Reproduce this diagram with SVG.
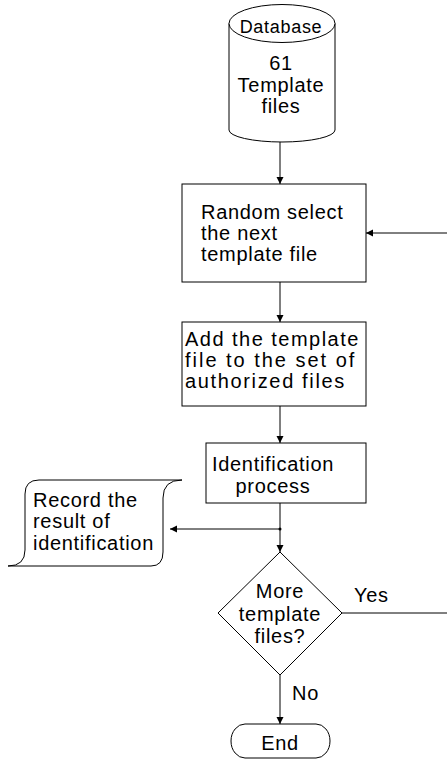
<svg xmlns="http://www.w3.org/2000/svg" width="447" height="760" viewBox="0 0 447 760">
  <style>
    .shape { fill: #fff; stroke: #000; stroke-width: 1; }
    .line { fill: none; stroke: #000; stroke-width: 1; }
    text { font-family: "Liberation Sans", Arial, sans-serif; font-size: 20px; letter-spacing: 0.7px; fill: #000; }
    .mid { text-anchor: middle; }
  </style>
  <defs>
    <marker id="arrow" markerUnits="userSpaceOnUse" markerWidth="8" markerHeight="8" refX="7" refY="3.5" orient="auto">
      <path d="M0,0 L7,3.5 L0,7 Z" fill="#000"/>
    </marker>
  </defs>

  <rect width="447" height="760" fill="#fff"/>

  <!-- connectors -->
  <g id="connectors">
    <line class="line" x1="280" y1="142" x2="280" y2="184" marker-end="url(#arrow)"/>
    <line class="line" x1="447" y1="233" x2="366" y2="233" marker-end="url(#arrow)"/>
    <line class="line" x1="280" y1="282" x2="280" y2="322" marker-end="url(#arrow)"/>
    <line class="line" x1="280" y1="406" x2="280" y2="443" marker-end="url(#arrow)"/>
    <line class="line" x1="280" y1="503" x2="280" y2="552" marker-end="url(#arrow)"/>
    <line class="line" x1="280" y1="529" x2="170" y2="529" marker-end="url(#arrow)"/>
    <circle cx="280" cy="529" r="1.5" fill="#000"/>
    <line class="line" x1="342" y1="613" x2="447" y2="613"/>
    <line class="line" x1="280" y1="675" x2="280" y2="724" marker-end="url(#arrow)"/>
    <text x="354" y="602">Yes</text>
    <text x="292" y="700">No</text>
  </g>

  <!-- database cylinder -->
  <g id="database">
    <path class="shape" d="M229,23.5 L229,130 A53,12 0 0 0 335,130 L335,23.5"/>
    <ellipse class="shape" cx="282" cy="23.5" rx="53" ry="19"/>
    <text class="mid" x="281" y="33" style="font-size:18px">Database</text>
    <text class="mid" x="281" y="70">61</text>
    <text class="mid" x="281" y="92">Template</text>
    <text class="mid" x="281" y="113">files</text>
  </g>

  <!-- random selection -->
  <g id="select">
    <rect class="shape" x="182" y="184" width="184" height="98"/>
    <text x="201" y="219">Random select</text>
    <text x="201" y="240">the next</text>
    <text x="201" y="261">template file</text>
  </g>

  <!-- add to authorized set -->
  <g id="add">
    <rect class="shape" x="182" y="322" width="184" height="84"/>
    <text x="185" y="346" textLength="174" lengthAdjust="spacing">Add the template</text>
    <text x="185" y="367" textLength="170" lengthAdjust="spacing">file to the set of</text>
    <text x="185" y="388" textLength="160" lengthAdjust="spacing">authorized files</text>
  </g>

  <!-- identification -->
  <g id="identify">
    <rect class="shape" x="206" y="443" width="160" height="60"/>
    <text class="mid" x="273" y="471">Identification</text>
    <text class="mid" x="273" y="493">process</text>
  </g>

  <!-- record of results -->
  <g id="record">
    <path class="shape" d="M182,480 L39,480 Q25,480 25,494 L25,550 Q25,566 8,566 L151,566 Q163,566 163,552 L163,498 Q163,480 182,480 Z"/>
    <text x="33" y="507">Record the</text>
    <text x="33" y="528">result of</text>
    <text x="33" y="550">identification</text>
  </g>

  <!-- decision -->
  <g id="decision">
    <path class="shape" d="M280,552 L342,613 L280,675 L218,613 Z"/>
    <text class="mid" x="280" y="598">More</text>
    <text class="mid" x="280" y="621">template</text>
    <text class="mid" x="280" y="643">files?</text>
  </g>

  <!-- end terminator -->
  <g id="end">
    <rect class="shape" x="231" y="724" width="99" height="34" rx="14" ry="17"/>
    <text class="mid" x="280" y="750">End</text>
  </g>
</svg>
